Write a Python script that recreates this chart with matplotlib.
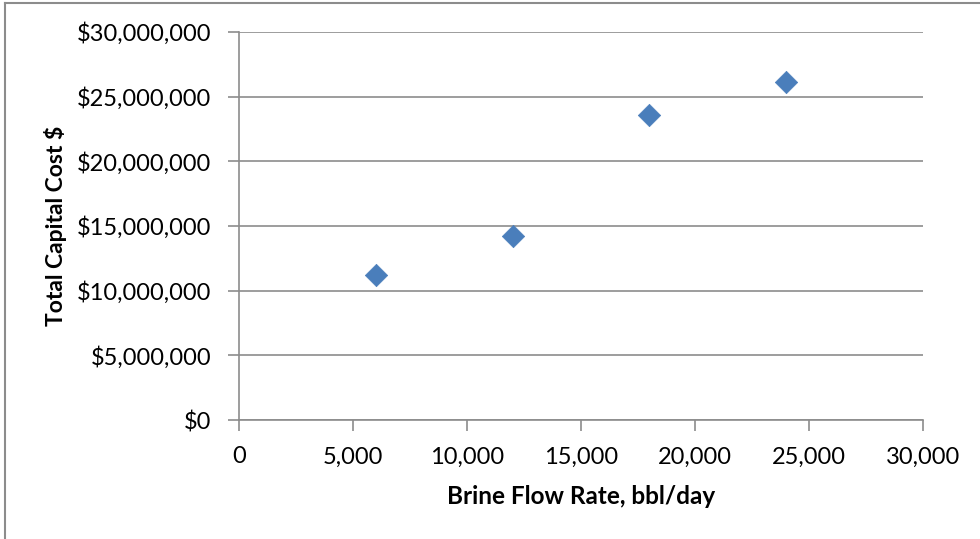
import matplotlib
matplotlib.use("Agg")
import matplotlib.pyplot as plt
from matplotlib.lines import Line2D
from matplotlib.ticker import FuncFormatter, MultipleLocator

# data
flow_rate = [6000, 12000, 18000, 24000]
capital_cost = [11.25e6, 14.2e6, 23.6e6, 26.1e6]

plt.rcParams['font.family'] = ['Lato', 'DejaVu Sans']

fig = plt.figure(figsize=(9.8, 5.39), dpi=100)
ax = fig.add_axes([239 / 980, 1 - 420 / 539, (923 - 239) / 980, (420 - 32) / 539])

ax.scatter(flow_rate, capital_cost, marker='D', s=130, color='#4a7ebb',
           edgecolors='#4a7ebb', linewidths=0.5, zorder=3)

ax.set_xlim(0, 30000)
ax.set_ylim(0, 30e6)
ax.xaxis.set_major_locator(MultipleLocator(5000))
ax.yaxis.set_major_locator(MultipleLocator(5e6))
ax.xaxis.set_major_formatter(FuncFormatter(lambda v, p: '{:,.0f}'.format(v)))
ax.yaxis.set_major_formatter(FuncFormatter(lambda v, p: '${:,.0f}'.format(v)))

ax.grid(axis='y', color='#8c8c8c', linewidth=1.2)
ax.set_axisbelow(True)
for s in ['top', 'right']:
    ax.spines[s].set_visible(False)
for s in ['left', 'bottom']:
    ax.spines[s].set_color('#8c8c8c')
    ax.spines[s].set_linewidth(1.2)
ax.tick_params(axis='y', direction='out', length=8, color='#8c8c8c', width=1.2,
               labelsize=17, pad=12)
ax.tick_params(axis='x', direction='out', length=8, color='#8c8c8c', width=1.2,
               labelsize=17, pad=11)

ax.set_xlabel('Brine Flow Rate, bbl/day', fontsize=17.5, fontweight='bold', labelpad=13)
ax.set_ylabel('Total Capital Cost $', fontsize=16.5, fontweight='bold', labelpad=7)

# outer chart border (clipped by the page edge)
fig.add_artist(Line2D([5 / 980, 5 / 980], [0, 1 - 3 / 539], color='#8c8c8c', linewidth=1.5))
fig.add_artist(Line2D([5 / 980, 1], [1 - 3 / 539, 1 - 3 / 539], color='#8c8c8c', linewidth=1.5))

fig.savefig('out.png', dpi=100)
